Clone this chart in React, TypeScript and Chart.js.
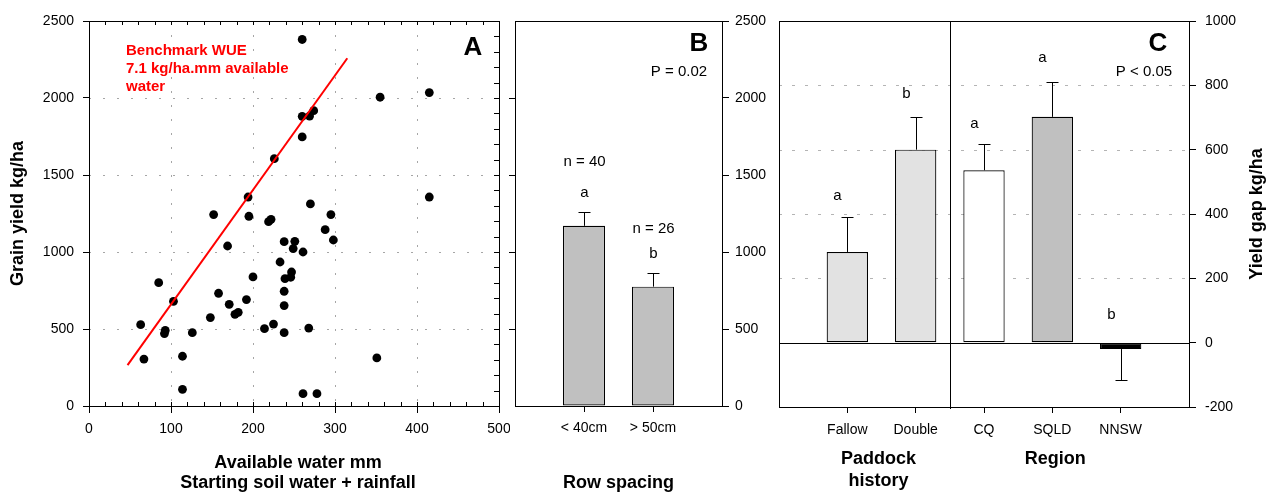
import React, { useEffect, useRef } from 'react';
import { Chart, registerables } from 'chart.js';

Chart.register(...registerables);

const FONT = '"Liberation Sans", Arial, Helvetica, sans-serif';

// ---------- Panel A: scatter ----------
const availableWater = [260, 355, 415, 260, 269, 274, 260, 226, 194, 152, 195, 270, 295, 219, 222, 288, 415, 298, 238, 251, 169, 249, 261, 233, 200, 247, 239, 246, 85, 103, 158, 238, 192, 171, 238, 182, 178, 148, 63, 93, 92, 126, 214, 225, 238, 268, 67, 114, 114, 261, 278, 351];
const grainYield = [2380, 2005, 2035, 1881, 1883, 1918, 1747, 1606, 1357, 1243, 1232, 1312, 1243, 1197, 1212, 1145, 1357, 1078, 1067, 1069, 1039, 1022, 1000, 935, 838, 870, 827, 836, 801, 680, 732, 745, 691, 660, 652, 608, 595, 574, 528, 491, 470, 476, 502, 532, 476, 506, 305, 323, 108, 80, 80, 312];
const wueLineX = [47, 315];
const wueLineY = [265, 2258];
const gridXA = [100, 200, 300, 400];
const gridYA = [500, 1000, 1500, 2000];
const wueText = ['Benchmark WUE', '7.1 kg/ha.mm available', 'water'];

// ---------- Panel B: row spacing ----------
const rowLabels = ['', '< 40cm', '> 50cm', ''];
const rowYield = [null, 1170, 775, null];
const rowErrTop = [null, 1262, 866, null];
const rowN = ['', 'n = 40', 'n = 26', ''];
const rowNY = [null, 1583, 1153, null];
const rowLetters = ['', 'a', 'b', ''];
const rowLetterY = [null, 1381, 985, null];
const leftTicksB = [500, 1000, 1500, 2000];

// ---------- Panel C: yield gap ----------
const gapLabels = ['', 'Fallow', 'Double', 'CQ', 'SQLD', 'NNSW', ''];
const gapValues = [null, 282, 600, 536, 702, -20, null];
const gapErr = [null, 391, 703, 618, 809, -115, null];
const gapColors = ['#ffffff', '#e2e2e2', '#e2e2e2', '#ffffff', '#c0c0c0', '#000000', '#ffffff'];
const gapLetters = ['', 'a', 'b', 'a', 'a', 'b', ''];
const gapLetterY = [null, 455, 773, 680, 885, 85, null];
const gridYC = [200, 400, 600, 800];

function drawText(ctx: CanvasRenderingContext2D, s: string, x: number, y: number, font: string, color = '#000', align: CanvasTextAlign = 'center', rot = 0) {
  ctx.save();
  ctx.translate(x, y);
  if (rot) ctx.rotate(rot);
  ctx.font = font;
  ctx.fillStyle = color;
  ctx.textAlign = align;
  ctx.textBaseline = 'middle';
  ctx.fillText(s, 0, 0);
  ctx.restore();
}

function line(ctx: CanvasRenderingContext2D, x1: number, y1: number, x2: number, y2: number, color = '#000', width = 1, dash: number[] = []) {
  ctx.save();
  ctx.strokeStyle = color;
  ctx.lineWidth = width;
  ctx.setLineDash(dash);
  ctx.beginPath();
  ctx.moveTo(x1, y1);
  ctx.lineTo(x2, y2);
  ctx.stroke();
  ctx.restore();
}

function frame(ctx: CanvasRenderingContext2D, ca: any) {
  ctx.save();
  ctx.strokeStyle = '#000';
  ctx.lineWidth = 1;
  ctx.strokeRect(Math.round(ca.left) + 0.5, Math.round(ca.top) + 0.5, Math.round(ca.right - ca.left), Math.round(ca.bottom - ca.top));
  ctx.restore();
}

const p = (v: number) => Math.round(v) + 0.5;

const tickFont = { family: FONT, size: 14 };
const hidden = 'rgba(0,0,0,0)';
const plainNum = (v: any) => String(v);
const noPad = (s: any) => {
  s.paddingLeft = 0;
  s.paddingRight = 0;
  s.paddingTop = 0;
  s.paddingBottom = 0;
};

const baseOptions = {
  responsive: false,
  maintainAspectRatio: false,
  animation: false as const,
  events: [] as any[],
  plugins: { legend: { display: false }, tooltip: { enabled: false } },
};

export default function App() {
  const refA = useRef<HTMLCanvasElement>(null);
  const refB = useRef<HTMLCanvasElement>(null);
  const refC = useRef<HTMLCanvasElement>(null);

  useEffect(() => {
    // ---------------- Panel A ----------------
    const decorA = {
      id: 'decorA',
      beforeDatasetsDraw(chart: any) {
        const { ctx, chartArea: ca, scales } = chart;
        for (const v of gridXA) {
          const px = p(scales.x.getPixelForValue(v));
          line(ctx, px, ca.top, px, ca.bottom, '#a6a6a6', 1, [2, 12]);
        }
        for (const v of gridYA) {
          const py = p(scales.y.getPixelForValue(v));
          line(ctx, ca.left, py, ca.right, py, '#a6a6a6', 1, [2, 12]);
        }
      },
      afterDraw(chart: any) {
        const { ctx, chartArea: ca, scales } = chart;
        frame(ctx, ca);
        for (let v = 20; v < 500; v += 20) {
          const px = p(scales.x.getPixelForValue(v));
          line(ctx, px, ca.top, px, ca.top + 4);
          line(ctx, px, ca.bottom, px, ca.bottom - 4);
        }
        for (let v = 100; v < 2500; v += 100) {
          const py = p(scales.y.getPixelForValue(v));
          line(ctx, ca.right, py, ca.right - 5, py);
        }
        drawText(ctx, 'A', 473, 48, `bold 26px ${FONT}`);
        wueText.forEach((t, i) => drawText(ctx, t, 126, 51 + i * 18, `bold 15px ${FONT}`, '#ff0000', 'left'));
        const midY = (ca.top + ca.bottom) / 2;
        drawText(ctx, 'Grain yield kg/ha', 18, midY, `bold 18px ${FONT}`, '#000', 'center', -Math.PI / 2);
        const midX = (ca.left + ca.right) / 2;
        drawText(ctx, 'Available water mm', midX + 4, 463, `bold 18px ${FONT}`);
        drawText(ctx, 'Starting soil water + rainfall', midX + 4, 483, `bold 18px ${FONT}`);
      },
    };

    const chartA = new Chart(refA.current as HTMLCanvasElement, {
      type: 'scatter',
      data: {
        datasets: [
          {
            data: wueLineX.map((x, i) => ({ x, y: wueLineY[i] })),
            showLine: true,
            borderColor: '#ff0000',
            borderWidth: 2,
            pointRadius: 0,
            order: 0,
          },
          {
            data: availableWater.map((x, i) => ({ x, y: grainYield[i] })),
            pointRadius: 4.4,
            backgroundColor: '#000',
            borderWidth: 0,
            order: 1,
          },
        ],
      },
      options: {
        ...baseOptions,
        layout: { padding: { top: 21, right: 11, left: 0, bottom: 0 } },
        scales: {
          x: {
            type: 'linear',
            min: 0,
            max: 500,
            ticks: { stepSize: 100, font: tickFont, color: '#000', padding: 8, callback: plainNum },
            grid: { drawOnChartArea: false, tickLength: 7, tickColor: '#000' },
            border: { display: false },
            afterFit: (s: any) => { s.height = 87; noPad(s); },
          },
          y: {
            type: 'linear',
            min: 0,
            max: 2500,
            ticks: { stepSize: 500, font: tickFont, color: '#000', padding: 9, callback: plainNum },
            grid: { drawOnChartArea: false, tickLength: 6, tickColor: '#000' },
            border: { display: false },
            afterFit: (s: any) => { s.width = 89; noPad(s); },
          },
        },
      } as any,
      plugins: [decorA],
    });

    // ---------------- Panel B ----------------
    const decorB = {
      id: 'decorB',
      afterDatasetsDraw(chart: any) {
        const { ctx, chartArea: ca, scales } = chart;
        rowYield.forEach((v, i) => {
          if (v === null) return;
          const x = p(scales.x.getPixelForValue(i));
          const y0 = scales.y.getPixelForValue(v);
          const y1 = p(scales.y.getPixelForValue(rowErrTop[i] as number));
          line(ctx, x, y0, x, y1);
          line(ctx, x - 6, y1, x + 6, y1);
          drawText(ctx, rowLetters[i], x, scales.y.getPixelForValue(rowLetterY[i] as number), `15px ${FONT}`);
          drawText(ctx, rowN[i], x, scales.y.getPixelForValue(rowNY[i] as number), `15px ${FONT}`);
        });
        frame(ctx, ca);
        for (const v of leftTicksB) {
          const py = p(scales.y.getPixelForValue(v));
          line(ctx, ca.left - 6, py, ca.left, py);
        }
      },
      afterDraw(chart: any) {
        const { ctx, chartArea: ca } = chart;
        drawText(ctx, 'B', 194, 44, `bold 26px ${FONT}`);
        drawText(ctx, 'P = 0.02', 174, 72, `15px ${FONT}`);
        drawText(ctx, 'Row spacing', (ca.left + ca.right) / 2, 483, `bold 18px ${FONT}`);
      },
    };

    const chartB = new Chart(refB.current as HTMLCanvasElement, {
      type: 'bar',
      data: {
        labels: rowLabels,
        datasets: [
          {
            data: rowYield,
            backgroundColor: '#c0c0c0',
            borderColor: '#000',
            borderWidth: 1.2,
            borderSkipped: false,
            barPercentage: 0.61,
            categoryPercentage: 1,
          },
        ],
      },
      options: {
        ...baseOptions,
        layout: { padding: { top: 21, right: 0, left: 10, bottom: 0 } },
        scales: {
          x: {
            type: 'category',
            offset: false,
            ticks: { font: tickFont, color: '#000', padding: 8, autoSkip: false, maxRotation: 0 },
            grid: {
              offset: false,
              drawOnChartArea: false,
              tickLength: 6,
              tickColor: (c: any) => (c.tick && c.tick.label ? '#000' : hidden),
            },
            border: { display: false },
            afterFit: (s: any) => { s.height = 87; noPad(s); },
          },
          y: {
            type: 'linear',
            position: 'right',
            min: 0,
            max: 2500,
            ticks: { stepSize: 500, font: tickFont, color: '#000', padding: 6, callback: plainNum },
            grid: { drawOnChartArea: false, tickLength: 7, tickColor: '#000' },
            border: { display: false },
            afterFit: (s: any) => { s.width = 53; noPad(s); },
          },
        },
      } as any,
      plugins: [decorB],
    });

    // ---------------- Panel C ----------------
    const decorC = {
      id: 'decorC',
      beforeDatasetsDraw(chart: any) {
        const { ctx, chartArea: ca, scales } = chart;
        for (const v of gridYC) {
          const py = p(scales.y.getPixelForValue(v));
          line(ctx, ca.left, py, ca.right, py, '#b4b4b4', 1, [3, 10]);
        }
      },
      afterDatasetsDraw(chart: any) {
        const { ctx, chartArea: ca, scales } = chart;
        const y0 = p(scales.y.getPixelForValue(0));
        line(ctx, ca.left, y0, ca.right, y0);
        const xd = p((scales.x.getPixelForValue(2) + scales.x.getPixelForValue(3)) / 2);
        line(ctx, xd, ca.top, xd, ca.bottom + 2);
        gapValues.forEach((v, i) => {
          if (v === null) return;
          const x = p(scales.x.getPixelForValue(i));
          const ya = scales.y.getPixelForValue(v);
          const yb = p(scales.y.getPixelForValue(gapErr[i] as number));
          line(ctx, x, ya, x, yb);
          line(ctx, x - 6, yb, x + 6, yb);
          drawText(ctx, gapLetters[i], x - 10, scales.y.getPixelForValue(gapLetterY[i] as number), `15px ${FONT}`);
        });
        frame(ctx, ca);
      },
      afterDraw(chart: any) {
        const { ctx, chartArea: ca, scales } = chart;
        drawText(ctx, 'C', 383, 44, `bold 26px ${FONT}`);
        drawText(ctx, 'P < 0.05', 369, 72, `15px ${FONT}`);
        const xPad = (scales.x.getPixelForValue(1) + scales.x.getPixelForValue(2)) / 2 - 3;
        drawText(ctx, 'Paddock', xPad, 459, `bold 18px ${FONT}`);
        drawText(ctx, 'history', xPad, 481, `bold 18px ${FONT}`);
        drawText(ctx, 'Region', scales.x.getPixelForValue(4) + 3, 459, `bold 18px ${FONT}`);
        drawText(ctx, 'Yield gap kg/ha', 482, (ca.top + ca.bottom) / 2, `bold 18px ${FONT}`, '#000', 'center', -Math.PI / 2);
      },
    };

    const chartC = new Chart(refC.current as HTMLCanvasElement, {
      type: 'bar',
      data: {
        labels: gapLabels,
        datasets: [
          {
            data: gapValues,
            backgroundColor: gapColors,
            borderColor: '#000',
            borderWidth: 1.2,
            borderSkipped: false,
            barPercentage: 0.605,
            categoryPercentage: 1,
          },
        ],
      },
      options: {
        ...baseOptions,
        layout: { padding: { top: 21, right: 0, left: 4, bottom: 0 } },
        scales: {
          x: {
            type: 'category',
            offset: false,
            ticks: { font: tickFont, color: '#000', padding: 9, autoSkip: false, maxRotation: 0 },
            grid: {
              offset: false,
              drawOnChartArea: false,
              tickLength: 6,
              tickColor: (c: any) => (c.tick && c.tick.label ? '#000' : hidden),
            },
            border: { display: false },
            afterFit: (s: any) => { s.height = 86; noPad(s); },
          },
          y: {
            type: 'linear',
            position: 'right',
            min: -200,
            max: 1000,
            ticks: { stepSize: 200, font: tickFont, color: '#000', padding: 9, callback: plainNum },
            grid: { drawOnChartArea: false, tickLength: 7, tickColor: '#000' },
            border: { display: false },
            afterFit: (s: any) => { s.width = 78; noPad(s); },
          },
        },
      } as any,
      plugins: [decorC],
    });

    return () => {
      chartA.destroy();
      chartB.destroy();
      chartC.destroy();
    };
  }, []);

  return (
    <div style={{ position: 'fixed', left: 0, top: 0, width: 1267, height: 493, background: '#fff', overflow: 'hidden' }}>
      <canvas ref={refA} width={510} height={493} style={{ position: 'absolute', left: 0, top: 0, width: 510, height: 493 }} />
      <canvas ref={refB} width={270} height={493} style={{ position: 'absolute', left: 505, top: 0, width: 270, height: 493 }} />
      <canvas ref={refC} width={492} height={493} style={{ position: 'absolute', left: 775, top: 0, width: 492, height: 493 }} />
    </div>
  );
}
